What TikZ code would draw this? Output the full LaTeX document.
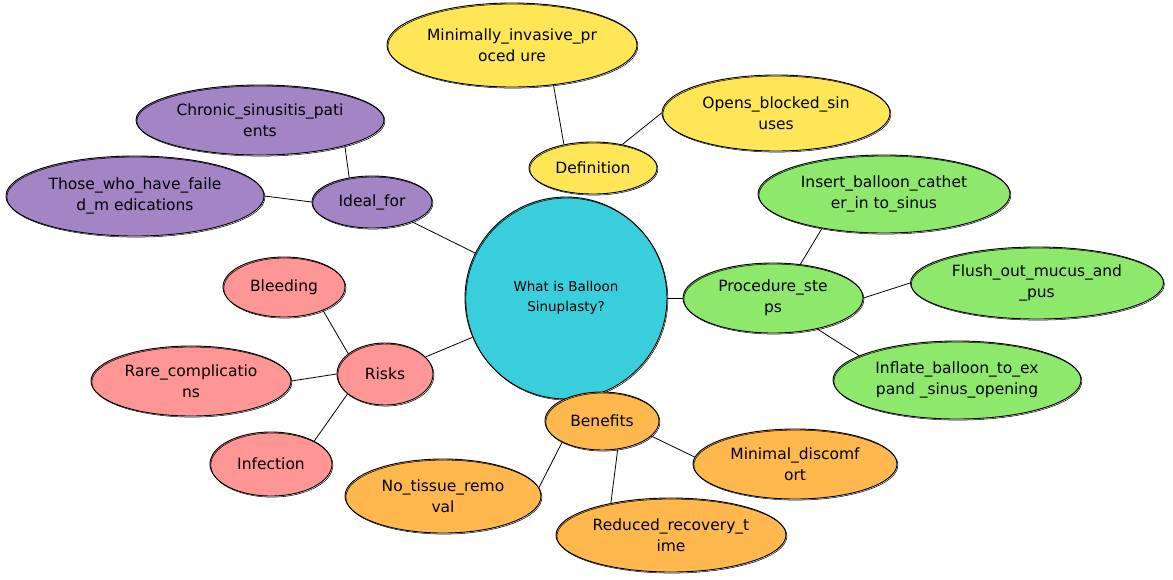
\documentclass[tikz,border=0pt]{standalone}
\usepackage{fontspec}
\setmainfont{DejaVu Sans}
\usetikzlibrary{positioning, shapes.geometric}
\definecolor{hubcyan}{RGB}{56,206,220}
\definecolor{defyellow}{RGB}{255,230,87}
\definecolor{idealpurple}{RGB}{163,133,198}
\definecolor{procgreen}{RGB}{141,232,107}
\definecolor{riskpink}{RGB}{255,150,150}
\definecolor{benorange}{RGB}{255,184,77}
\tikzset{
  sketch/.style={postaction={draw, line width=0.5pt, transform canvas={shift={(0.9pt,-1.1pt)}}}},
  hub/.style={circle, draw, line width=0.9pt, sketch, minimum size=202pt, inner sep=0pt, align=center, font=\fontsize{13.5}{20}\selectfont, fill=hubcyan},
  idea/.style={ellipse, draw, line width=0.9pt, sketch, inner sep=0pt, align=center, font=\fontsize{15.5}{21}\selectfont},
  defbox/.style={idea, fill=defyellow},
  idealbox/.style={idea, fill=idealpurple},
  procbox/.style={idea, fill=procgreen},
  riskbox/.style={idea, fill=riskpink},
  benbox/.style={idea, fill=benorange},
  link/.style={line width=0.8pt},
}

\begin{document}
\begin{tikzpicture}[x=1pt, y=-1pt, on grid]
  \useasboundingbox (0,0) rectangle (1173,579);

  \node[hub] (hub) at (566,298) {What is Balloon\\Sinuplasty?};

  % definition branch
  \node[defbox, minimum width=128pt, minimum height=52pt, above right=130pt and 27pt of hub] (definition) {Definition};
  \node[defbox, minimum width=250pt, minimum height=84pt, above left=123pt and 81pt of definition] (invasive) {Minimally\_invasive\_pr\\oced ure};
  \node[defbox, minimum width=228pt, minimum height=76pt, above right=55pt and 183pt of definition] (opens) {Opens\_blocked\_sin\\uses};

  % ideal for branch
  \node[idealbox, minimum width=120pt, minimum height=52pt, above left=96pt and 194pt of hub] (ideal) {Ideal\_for};
  \node[idealbox, minimum width=248pt, minimum height=70pt, above left=82pt and 112pt of ideal] (chronic) {Chronic\_sinusitis\_pati\\ents};
  \node[idealbox, minimum width=258pt, minimum height=80pt, above left=6pt and 237pt of ideal] (failed) {Those\_who\_have\_faile\\d\_m edications};

  % procedure branch
  \node[procbox, minimum width=180pt, minimum height=70pt, right=207pt of hub] (steps) {Procedure\_ste\\ps};
  \node[procbox, minimum width=252pt, minimum height=78pt, above right=104pt and 111pt of steps] (insert) {Insert\_balloon\_cathet\\er\_in to\_sinus};
  \node[procbox, minimum width=253pt, minimum height=72pt, above right=15pt and 264pt of steps] (flush) {Flush\_out\_mucus\_and\\\_pus};
  \node[procbox, minimum width=248pt, minimum height=78pt, below right=82pt and 184pt of steps] (inflate) {Inflate\_balloon\_to\_ex\\pand \_sinus\_opening};

  % risks branch
  \node[riskbox, minimum width=96pt, minimum height=62pt, below left=76pt and 181pt of hub] (risks) {Risks};
  \node[riskbox, minimum width=122pt, minimum height=60pt, above left=87pt and 101pt of risks] (bleeding) {Bleeding};
  \node[riskbox, minimum width=200pt, minimum height=70pt, below left=7pt and 194pt of risks] (rare) {Rare\_complicatio\\ns};
  \node[riskbox, minimum width=122pt, minimum height=64pt, below left=90pt and 114pt of risks] (infection) {Infection};

  % benefits branch
  \node[benbox, minimum width=114pt, minimum height=58pt, below right=123pt and 36pt of hub] (benefits) {Benefits};
  \node[benbox, minimum width=196pt, minimum height=74pt, below left=75pt and 159pt of benefits] (tissue) {No\_tissue\_remo\\val};
  \node[benbox, minimum width=230pt, minimum height=74pt, below right=114pt and 69pt of benefits] (recovery) {Reduced\_recovery\_t\\ime};
  \node[benbox, minimum width=204pt, minimum height=70pt, below right=43pt and 193pt of benefits] (discomfort) {Minimal\_discomf\\ort};

  \draw[link] (definition.141) -- (invasive.-44);
  \draw[link] (definition) -- (opens.west);
  \draw[link] (hub) -- (ideal);
  \draw[link] (ideal.133) -- (chronic.-17);
  \draw[link] (ideal.west) -- (failed.east);
  \draw[link] (hub) -- (steps);
  \draw[link] (steps.51) -- (insert.209);
  \draw[link] (steps.east) -- (flush.west);
  \draw[link] (steps.-35) -- (inflate.166);
  \draw[link] (hub) -- (risks);
  \draw[link] (risks.151) -- (bleeding.-31);
  \draw[link] (risks.west) -- (rare.east);
  \draw[link] (risks.208) -- (infection.28);
  \draw[link] (benefits.208) -- (tissue.5);
  \draw[link] (benefits.-61) -- (recovery.152);
  \draw[link] (benefits.-17) -- (discomfort.176);
\end{tikzpicture}
\end{document}
